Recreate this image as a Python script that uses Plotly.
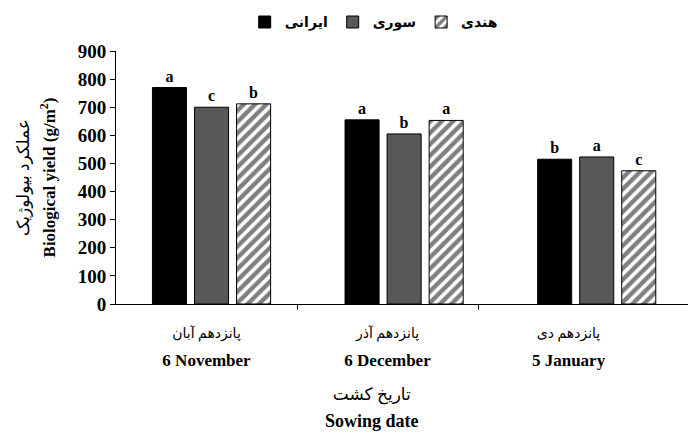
import plotly.graph_objects as go

# Sowing dates (English / Persian) and biological yield per cultivar, g/m²
dates_en = ["6 November", "6 December", "5 January"]
dates_fa = ["پانزدهم آبان", "پانزدهم آذر", "پانزدهم دی"]
iranian = [770, 655, 515]
syrian = [700, 605, 523]
indian = [712, 653, 474]
# Duncan grouping letters shown above the bars
iranian_grp = ["a", "a", "b"]
syrian_grp = ["c", "b", "a"]
indian_grp = ["b", "a", "c"]
y_ticks = list(range(0, 1000, 100))

FONT = "Liberation Serif, DejaVu Sans, serif"


def two_lines(top, bottom, top_size, bottom_size):
    return (f"<span style='font-size:{top_size}px'>{top}</span><br>"
            f"<b><span style='font-size:{bottom_size}px'>{bottom}</span></b>")


series = [
    ("ایرانی", iranian, iranian_grp, dict(color="black")),
    ("سوری", syrian, syrian_grp, dict(color="#585858")),
    ("هندی", indian, indian_grp,
     dict(color="white",
          pattern=dict(shape="/", fgcolor="black", bgcolor="white",
                       size=8, solidity=0.55))),
]

fig = go.Figure()
for name, vals, grp, mk in series:
    fig.add_trace(go.Bar(
        x=dates_en, y=vals, name=name,
        text=grp, textposition="outside",
        textfont=dict(size=16, color="black", family=FONT, weight="bold"),
        marker=dict(**mk, line=dict(color="black", width=1)),
        cliponaxis=False, hoverinfo="x+y",
    ))

# carrier trace for the labelled category axis
fig.add_trace(go.Scatter(x=[0, 1, 2], y=[0, 0, 0], xaxis="x2", mode="none",
                         showlegend=False, hoverinfo="skip"))

fig.update_layout(
    width=688, height=434,
    margin=dict(l=116, r=0, t=51, b=130),
    paper_bgcolor="white", plot_bgcolor="white",
    font=dict(family=FONT, color="black", size=14),
    barmode="group", bargap=0.345, bargroupgap=0.19,
    showlegend=True,
    legend=dict(orientation="h", x=0.225, xanchor="left", y=1.113,
                yanchor="middle",
                font=dict(family=FONT, size=14, weight="bold"),
                itemwidth=30, tracegroupgap=0, bgcolor="rgba(0,0,0,0)"),
    xaxis=dict(type="category", range=[-0.496, 2.474], showticklabels=False,
               showline=False, ticks="", showgrid=False, zeroline=False),
    xaxis2=dict(overlaying="x", anchor="y", range=[-0.5, 2.66],
                tickmode="array", tickvals=[0, 1, 2],
                ticktext=[two_lines(fa, en, 14, 17)
                          for fa, en in zip(dates_fa, dates_en)],
                tickfont=dict(family=FONT, size=21.5), ticks="",
                ticklabelstandoff=7,
                showline=True, linecolor="black", linewidth=1,
                showgrid=False, zeroline=False,
                minor=dict(tickmode="array", tickvals=[0.5, 1.5],
                           ticks="outside", ticklen=5, tickcolor="black",
                           showgrid=False)),
    yaxis=dict(range=[0, 900], tickmode="array", tickvals=y_ticks,
               ticks="outside", ticklen=5, tickcolor="black",
               showline=True, linecolor="black", linewidth=1,
               showgrid=False, zeroline=False,
               tickfont=dict(family=FONT, size=19, weight="bold"),
               automargin=True,
               title=dict(text=two_lines("عملکرد بیولوژیک",
                                         "Biological yield (g/m<sup>2</sup>)",
                                         17, 17),
                          font=dict(family=FONT, size=20), standoff=16)),
)

fig.add_annotation(
    text=two_lines("تاریخ کشت", "Sowing date", 17, 18),
    font=dict(family=FONT, size=21), showarrow=False,
    xref="paper", yref="paper", x=0.4476, y=-0.413,
    xanchor="center", yanchor="middle",
)

fig.write_html("out.html")
